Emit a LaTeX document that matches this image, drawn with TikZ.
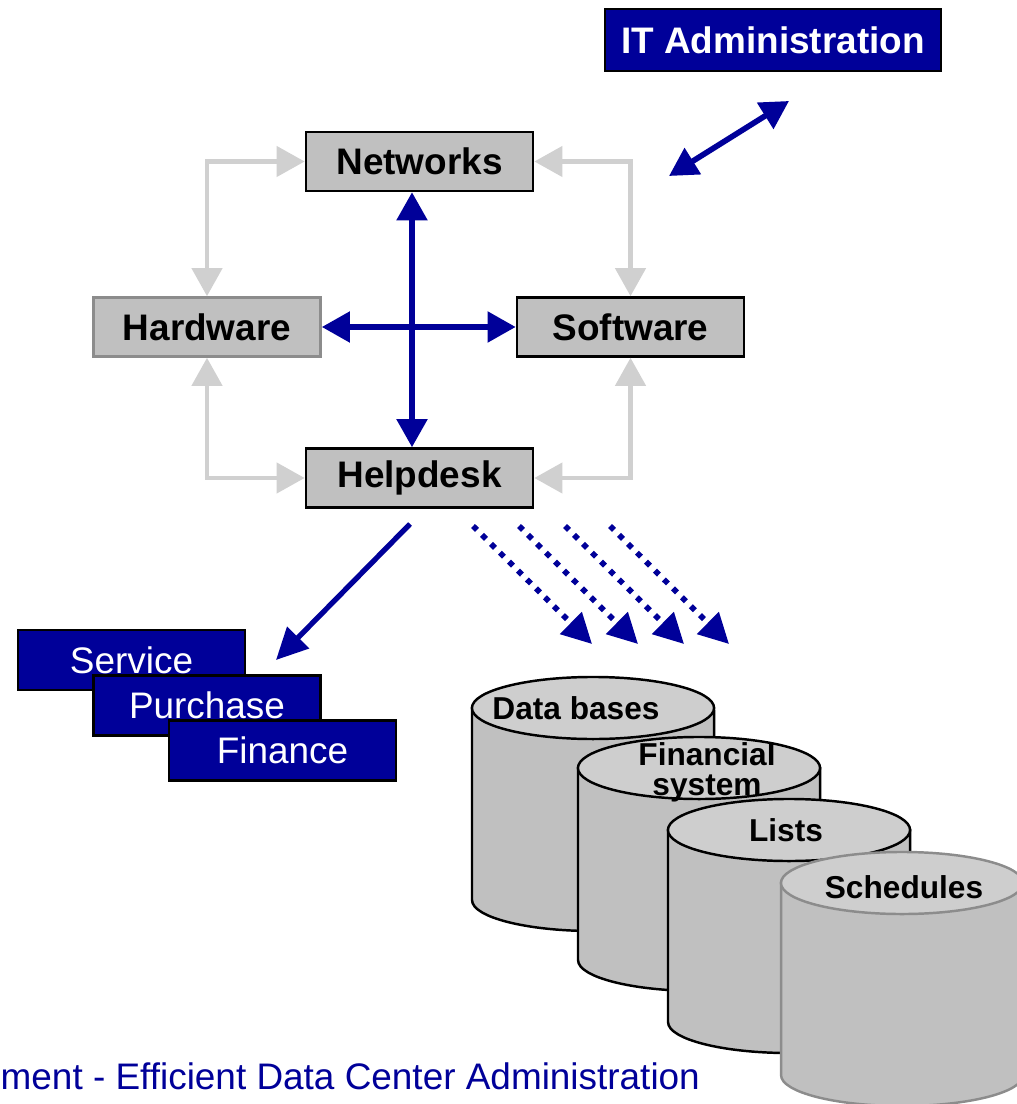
\documentclass[tikz,border=0pt]{standalone}
\usepackage{fontspec}
\setmainfont{Liberation Sans}
\usetikzlibrary{positioning,arrows.meta}
\definecolor{navy}{RGB}{0,0,153}
\definecolor{boxgray}{RGB}{192,192,192}
\definecolor{linegray}{RGB}{208,208,208}
\definecolor{topgray}{RGB}{206,206,206}
\definecolor{edgegray}{RGB}{140,140,140}
\tikzset{gb/.style={rectangle,draw,line width=0.7pt,fill=boxgray,minimum width=2.27cm,minimum height=0.59cm,inner sep=0pt,font=\fontsize{10.5}{12}\selectfont\bfseries},
            nb/.style={rectangle,draw,line width=0.7pt,fill=navy,text=white,minimum width=2.27cm,minimum height=0.6cm,inner sep=0pt,font=\fontsize{10.5}{12}\selectfont},
            ga/.style={{Triangle[length=8pt,width=8.5pt]}-{Triangle[length=8pt,width=8.5pt]},linegray,line width=1.4pt},
            ba/.style={{Triangle[length=8pt,width=8.5pt]}-{Triangle[length=8pt,width=8.5pt]},navy,line width=1.6pt},
            da/.style={-{Triangle[length=8.5pt,width=8.5pt]},navy,line width=1.6pt,dash pattern=on 1.6pt off 2pt},
            dl/.style={align=center,inner sep=0pt,font=\fontsize{9}{8.5}\selectfont\bfseries}}

\begin{document}
\begin{tikzpicture}[x=0.01cm,y=-0.01cm]
\useasboundingbox (0,0) rectangle (1016,1104);
\node[gb] at (419.5,161.5)(net){Networks};
\node[gb,draw=edgegray] at (207,327)(hw){Hardware};
\node[gb] at (630.5,327)(sw){Software};
\node[gb] at (419.5,478)(help){Helpdesk};
\node[nb,font=\fontsize{10.5}{12}\selectfont\bfseries,minimum width=3.36cm,minimum height=0.62cm] at (773,40)(it){IT Administration};
\node[nb] at (131.5,660)(serv){Service};
\node[nb] at (207,705.5)(purch){Purchase};
\node[nb] at (282.5,750.5)(fin){Finance};
\draw[ga] (net.west) -| (hw.north);
\draw[ga] (net.east) -| (sw.north);
\draw[ga] (hw.south) |- (help.west);
\draw[ga] (sw.south) |- (help.east);
\draw[ba] (hw.east) -- (sw.west);
\draw[ba] ([xshift=-0.075cm]net.south) -- ([xshift=-0.075cm]help.north);
\coordinate (itlow) at (669,176);
\coordinate (ithigh) at (789,101);
\draw[ba] (itlow) -- (ithigh);
\coordinate (hdout) at (410,524);
\coordinate (servin) at (276,660);
\draw[-{Triangle[length=9pt,width=8.5pt]},navy,line width=1.5pt] (hdout) -- (servin);
\foreach \i/\x in {1/473,2/519,3/565,4/610}{
  \coordinate (s\i) at (\x,526);
  \coordinate (e\i) at (\x+119,644);
  \draw[da] (s\i) -- (e\i);
}
% data stores
\foreach \cx/\cy/\cb/\txt/\tx/\ty in {472/708/black/Data bases/576/708, 578/768/black/{Financial\\system}/707/772, 668/830/black/Lists/786/830, 781/883/edgegray/Schedules/904/887}{
  \filldraw[fill=boxgray,draw=\cb,line width=0.7pt] (\cx,\cy) -- (\cx,\cy+192) arc[start angle=180,end angle=360,x radius=1.21cm,y radius=0.31cm] -- (\cx+242,\cy) -- cycle;
  \filldraw[fill=topgray,draw=\cb,line width=0.7pt] (\cx+121,\cy) ellipse[x radius=1.21cm,y radius=0.31cm];
  \node[dl] at (\tx,\ty) {\txt};
}
\node[anchor=west,inner sep=0pt,text=navy,font=\fontsize{10.5}{12}\selectfont] at (0,1076)(foot){ment - Efficient Data Center Administration};
\end{tikzpicture}
\end{document}
